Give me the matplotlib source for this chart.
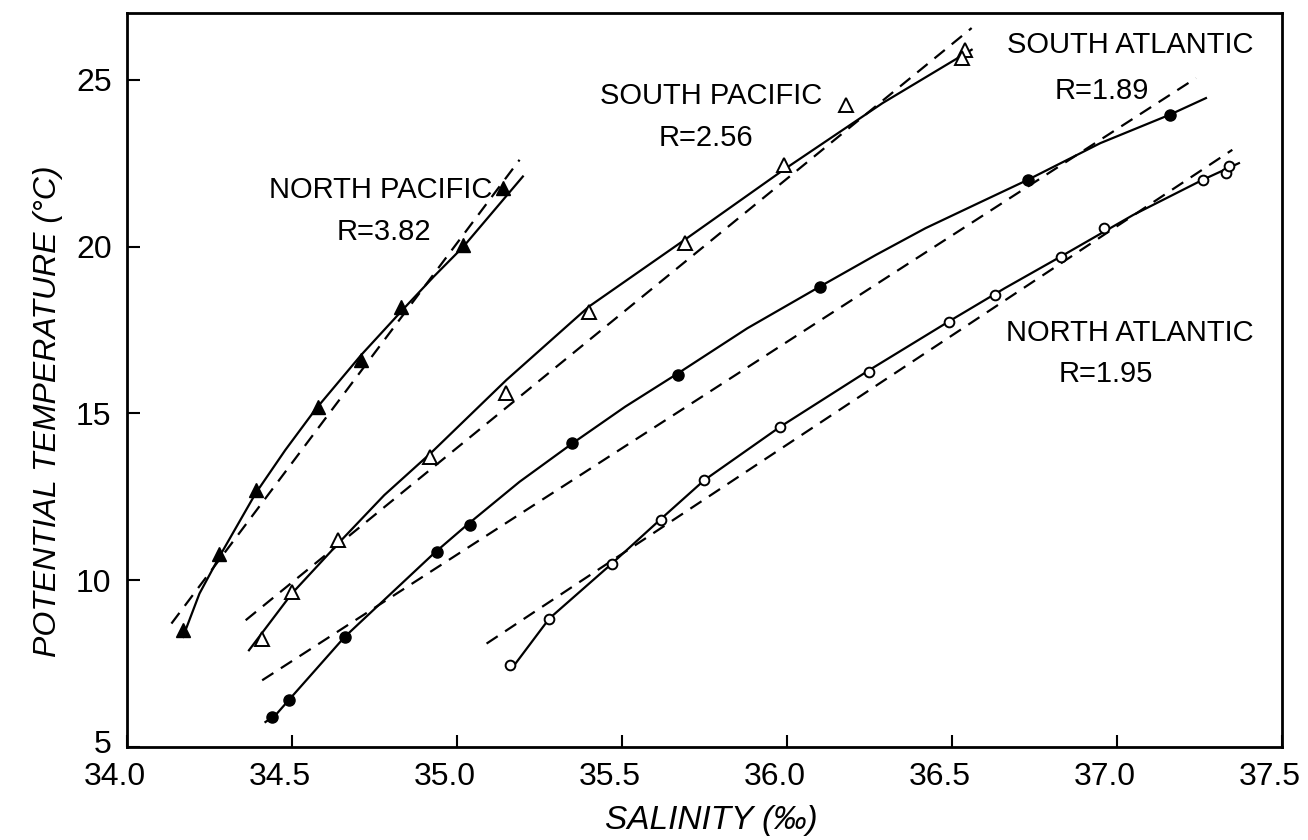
import matplotlib
matplotlib.use("Agg")
import matplotlib.pyplot as plt
from matplotlib.transforms import ScaledTranslation

# potential temperature vs salinity for the four ocean basins
# observed points (salinity in per mil, temperature in deg C)
np_sal = [34.17, 34.28, 34.39, 34.58, 34.71, 34.83, 35.02, 35.14]
np_temp = [8.5, 10.8, 12.7, 15.2, 16.6, 18.2, 20.05, 21.75]

sp_sal = [34.41, 34.50, 34.64, 34.92, 35.15, 35.40, 35.69, 35.99, 36.18, 36.54, 36.53]
sp_temp = [8.25, 9.65, 11.2, 13.7, 15.6, 18.05, 20.1, 22.45, 24.25, 25.9, 25.65]

sa_sal = [34.44, 34.49, 34.66, 34.94, 35.04, 35.35, 35.67, 36.10, 36.73, 37.16]
sa_temp = [5.9, 6.4, 8.3, 10.85, 11.65, 14.1, 16.15, 18.8, 22.0, 23.95]

na_sal = [35.16, 35.28, 35.47, 35.62, 35.75, 35.98, 36.25, 36.49, 36.63, 36.83,
          36.96, 37.26, 37.33, 37.34]
na_temp = [7.45, 8.85, 10.5, 11.8, 13.0, 14.6, 16.25, 17.75, 18.55, 19.7,
           20.55, 22.0, 22.2, 22.4]

# hand-drawn smooth curves through each basin
np_curve_sal = [34.17, 34.22, 34.28, 34.39, 34.48, 34.57, 34.71, 34.84, 34.93, 35.02, 35.20]
np_curve_temp = [8.3, 9.6, 10.7, 12.6, 13.9, 15.1, 16.75, 18.15, 19.1, 20.0, 22.1]

sp_curve_sal = [34.37, 34.50, 34.65, 34.78, 34.92, 35.15, 35.40, 35.69, 35.99, 36.29, 36.56]
sp_curve_temp = [7.9, 9.6, 11.2, 12.55, 13.8, 16.0, 18.2, 20.2, 22.3, 24.3, 25.9]

sa_curve_sal = [34.42, 34.45, 34.49, 34.66, 34.93, 35.03, 35.19, 35.35, 35.51, 35.67,
                35.88, 36.10, 36.27, 36.42, 36.58, 36.73, 36.95, 37.16, 37.27]
sa_curve_temp = [5.75, 5.95, 6.4, 8.3, 10.8, 11.65, 12.95, 14.1, 15.2, 16.2,
                 17.55, 18.8, 19.75, 20.55, 21.3, 22.0, 23.1, 23.95, 24.45]

na_curve_sal = [35.17, 35.28, 35.47, 35.62, 35.75, 35.98, 36.25, 36.49, 36.66, 36.83,
                37.05, 37.26, 37.37]
na_curve_temp = [7.4, 8.85, 10.5, 11.85, 13.0, 14.6, 16.3, 17.75, 18.75, 19.7,
                 20.95, 22.0, 22.5]

# straight-line fits (end points)
np_fit_sal, np_fit_temp = [34.135, 35.19], [8.7, 22.6]
sp_fit_sal, sp_fit_temp = [34.36, 36.56], [8.8, 26.55]
sa_fit_sal, sa_fit_temp = [34.41, 37.24], [7.0, 25.05]
na_fit_sal, na_fit_temp = [35.09, 37.35], [8.1, 22.9]

basin_names = ["NORTH PACIFIC", "SOUTH PACIFIC", "SOUTH ATLANTIC", "NORTH ATLANTIC"]
basin_ratio = ["R=3.82", "R=2.56", "R=1.89", "R=1.95"]

xticks = [34.0, 34.5, 35.0, 35.5, 36.0, 36.5, 37.0, 37.5]
yticks = [5, 10, 15, 20, 25]

plt.rcParams["font.family"] = ["Liberation Sans", "DejaVu Sans"]

fig = plt.figure(figsize=(13.08, 8.4), dpi=100)
ax = fig.add_axes([0.097, 0.1107, 0.883, 0.8738])

solid = dict(color="black", lw=1.6, ls="-", zorder=2)
dashed = dict(color="black", lw=1.6, ls=(0, (6, 4)), zorder=2)

ax.plot(np_curve_sal, np_curve_temp, **solid)
ax.plot(sp_curve_sal, sp_curve_temp, **solid)
ax.plot(sa_curve_sal, sa_curve_temp, **solid)
ax.plot(na_curve_sal, na_curve_temp, **solid)

ax.plot(np_fit_sal, np_fit_temp, **dashed)
ax.plot(sp_fit_sal, sp_fit_temp, **dashed)
ax.plot(sa_fit_sal, sa_fit_temp, **dashed)
ax.plot(na_fit_sal, na_fit_temp, **dashed)

ax.plot(np_sal, np_temp, "^", ms=10, mfc="black", mec="black", zorder=3)
ax.plot(sp_sal, sp_temp, "^", ms=10, mfc="white", mec="black", mew=1.4, zorder=3)
ax.plot(sa_sal, sa_temp, "o", ms=8, mfc="black", mec="black", zorder=3)
ax.plot(na_sal, na_temp, "o", ms=7, mfc="white", mec="black", mew=1.4, zorder=3)

# basin labels
label_pos = [(34.77, 21.70), (35.77, 24.52), (37.04, 26.05), (37.04, 17.41)]
ratio_pos = [(34.78, 20.44), (35.755, 23.26), (36.955, 24.67), (36.967, 16.18)]
for name, (x, y) in zip(basin_names, label_pos):
    ax.text(x, y, name, ha="center", va="center", fontsize=21)
for r, (x, y) in zip(basin_ratio, ratio_pos):
    ax.text(x, y, r, ha="center", va="center", fontsize=21)

ax.set_xlim(34.0, 37.5)
ax.set_ylim(5, 27)
ax.set_xticks(xticks)
ax.set_xticklabels([f"{v:.1f}" for v in xticks])
ax.set_yticks(yticks)
ax.tick_params(direction="in", length=9, width=1.5, labelsize=23, pad=11)

# nudge the salinity labels a little left so the last one stays on the page
shift = ScaledTranslation(-9 / 72, 0, fig.dpi_scale_trans)
for lbl in ax.get_xticklabels():
    lbl.set_transform(lbl.get_transform() + shift)
# lift the corner "5" so it clears the 34.0 below it
ylbl = ax.get_yticklabels()[0]
ylbl.set_transform(ylbl.get_transform() + ScaledTranslation(0, 4 / 72, fig.dpi_scale_trans))

for sp in ax.spines.values():
    sp.set_linewidth(2.0)

ax.set_xlabel("SALINITY (\u2030)", fontsize=24, style="italic")
ax.set_ylabel("POTENTIAL TEMPERATURE (\u00b0C)", fontsize=23, style="italic")
ax.xaxis.set_label_coords(0.506, -0.0995)
ax.xaxis.label.set_verticalalignment("center")
ax.yaxis.set_label_coords(-0.0684, 0.458)
ax.yaxis.label.set_verticalalignment("center")

fig.savefig("out.png", dpi=100)
